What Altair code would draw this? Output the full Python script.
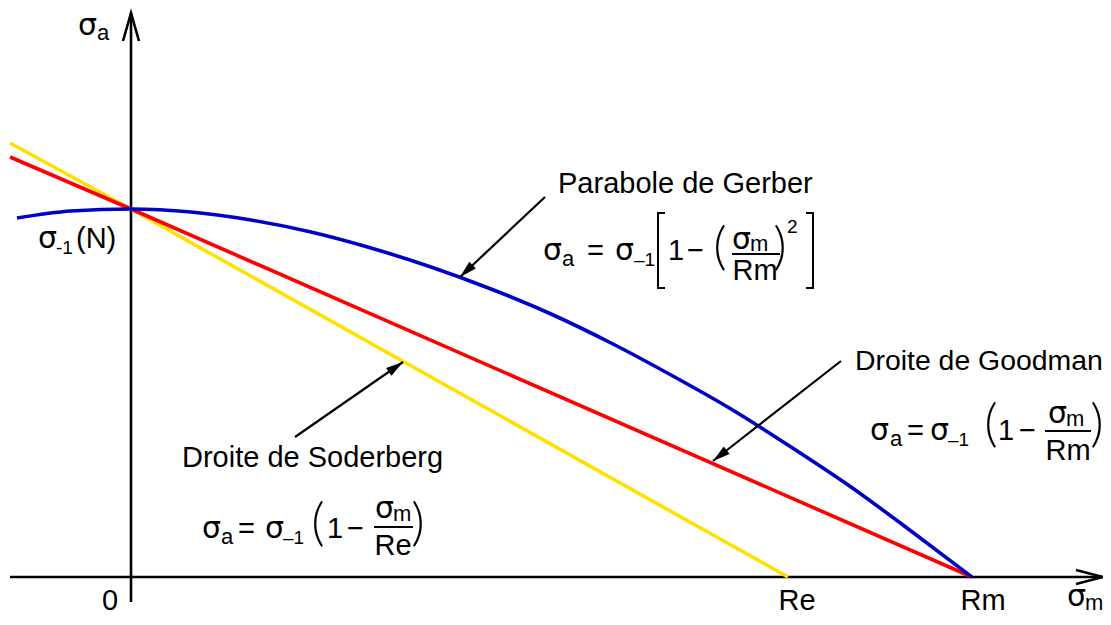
import math
import altair as alt
import pandas as pd

# ---------------- data (σm horizontally, σa vertically; origin = 0,0) ----------------
SIGMA_1 = 368          # σ-1(N)
RE = 657               # Re
RM = 841               # Rm

gerber_sm = [-114, -60, 0, 60, 120, 180, 240, 300, 360, 420, 480, 540, 600, 660, 720, 780, 841]
gerber_sa = [359, 366, 368, 365, 357, 345, 329, 310, 288, 263, 234, 202, 168, 130, 90, 46, 0]

goodman_sm = [-121, 0, 841]
goodman_sa = [420, 368, 0]

soderberg_sm = [-121, 0, 657]
soderberg_sa = [434, 368, 0]

# axes extents
x_axis_sm = [-121, 972]
y_axis_sa = [-25, 564]

# ---------------- layout / annotation positions (in the same units) ----------------
FONT = "Liberation Sans"
SFONT = "DejaVu Sans"   # font used for the σ glyphs
MAIN = 29      # ordinary text
SIG = 30       # σ glyphs
SUB = 22       # letter subscripts
NSUB = 19      # numeric sub/superscripts

left_texts = [
    ("a", -34, 537, SUB),
    ("-1", -75, 323, NSUB), ("(N)", -55, 329, MAIN),
    ("m", 954, -33, SUB),
    ("Parabole de Gerber", 427, 384, MAIN),
    ("a", 431, 311, SUB), ("=", 456, 317, MAIN),
    ("–1", 503, 311, NSUB),
    ("1", 537, 317, MAIN), ("−", 556, 317, MAIN),
    ("m", 619, 326, SUB), ("2", 656, 344, NSUB),
    ("Droite de Goodman", 724, 207, 28.4),
    ("a", 759, 131, SUB), ("=", 776, 137, MAIN),
    ("–1", 817, 131, NSUB),
    ("1", 867, 137, MAIN), ("−", 888, 137, MAIN),
    ("m", 935, 151, SUB),
    ("Droite de Soderberg", 51, 110, MAIN),
    ("a", 90, 33, SUB), ("=", 107, 39, MAIN),
    ("–1", 152, 33, NSUB),
    ("1", 196, 39, MAIN), ("−", 216, 39, MAIN),
    ("m", 262, 56, SUB),
]
sigma_texts = [
    ("σ", -53, 542, SIG),
    ("σ", -93, 329, SIG),
    ("σ", 936, -29, SIG),
    ("σ", 412, 317, SIG), ("σ", 484, 317, SIG), ("σ", 601, 328, SIG),
    ("σ", 739, 137, SIG), ("σ", 799, 137, SIG), ("σ", 917, 154, SIG),
    ("σ", 71, 39, SIG), ("σ", 134, 39, SIG), ("σ", 244, 59, SIG),
]
center_texts = [
    ("0", -21, -33, MAIN), ("Re", 666, -33, MAIN), ("Rm", 852, -33, MAIN),
    ("Rm", 624, 297, MAIN), ("Rm", 937, 117, MAIN), ("Re", 262, 22, MAIN),
]
PAREN = 52
big_glyphs = [
    ("(", 589, 329, PAREN), (")", 649, 329, PAREN),
    ("(", 860, 152, PAREN), (")", 966, 152, PAREN),
    ("(", 187, 53, PAREN), (")", 287, 53, PAREN),
]
# square brackets of the Gerber formula: (x_outer, x_inner, y_top, y_bottom)
brackets = [(527, 534, 364, 289), (682, 675, 364, 289)]
frac_bars = [(601, 649, 323), (914, 960, 146), (243, 282, 50)]

# annotation arrows: tail -> tip
arrows = [(414, 380, 329, 300), (710, 216, 582, 116), (164, 140, 272, 215)]

# ---------------- scales ----------------
W, H = 1095, 603
X = alt.Scale(domain=[-123, 972], nice=False, zero=False)
Y = alt.Scale(domain=[-34, 569], nice=False, zero=False)


def xe(f):
    return alt.X(f, type="quantitative", scale=X, axis=None)


def ye(f):
    return alt.Y(f, type="quantitative", scale=Y, axis=None)


# axes lines
axes_df = pd.DataFrame([
    {"x": x_axis_sm[0], "y": 0, "x2": x_axis_sm[1], "y2": 0},
    {"x": 0, "y": y_axis_sa[0], "x2": 0, "y2": y_axis_sa[1]},
])
axes = alt.Chart(axes_df).mark_rule(color="black", strokeWidth=2.6).encode(
    x=xe("x"), y=ye("y"), x2=alt.X2("x2"), y2=alt.Y2("y2"))

# open arrowheads of axes
heads_df = pd.DataFrame([
    {"g": "x", "o": 0, "x": x_axis_sm[1] - 27, "y": 7},
    {"g": "x", "o": 1, "x": x_axis_sm[1], "y": 0},
    {"g": "x", "o": 2, "x": x_axis_sm[1] - 27, "y": -7},
    {"g": "y", "o": 0, "x": -8, "y": y_axis_sa[1] - 28},
    {"g": "y", "o": 1, "x": 0, "y": y_axis_sa[1]},
    {"g": "y", "o": 2, "x": 8, "y": y_axis_sa[1] - 28},
])
axis_heads = alt.Chart(heads_df).mark_line(color="black", strokeWidth=2.6, strokeJoin="miter").encode(
    x=xe("x"), y=ye("y"), detail="g:N", order="o:Q")

# curves
sod_df = pd.DataFrame({"x": soderberg_sm, "y": soderberg_sa})
good_df = pd.DataFrame({"x": goodman_sm, "y": goodman_sa})
ger_df = pd.DataFrame({"x": gerber_sm, "y": gerber_sa})

sod = alt.Chart(sod_df).mark_line(color="#FFE000", strokeWidth=3.6, strokeCap="butt").encode(
    x=xe("x"), y=ye("y"))
good = alt.Chart(good_df).mark_line(color="#FF0000", strokeWidth=3.6, strokeCap="butt").encode(
    x=xe("x"), y=ye("y"))
ger = alt.Chart(ger_df).mark_line(color="#0000C8", strokeWidth=3.6, strokeCap="butt",
                                  interpolate="monotone").encode(x=xe("x"), y=ye("y"))

# annotation arrows
arr_df = pd.DataFrame([
    {"x": a[0], "y": a[1], "x2": a[2], "y2": a[3],
     "angle": (math.degrees(math.atan2(a[2] - a[0], a[3] - a[1])) + 360) % 360}
    for a in arrows
])
arr_lines = alt.Chart(arr_df).mark_rule(color="black", strokeWidth=2.2).encode(
    x=xe("x"), y=ye("y"), x2=alt.X2("x2"), y2=alt.Y2("y2"))
arr_heads = alt.Chart(arr_df).mark_point(
    shape="M0,0L-0.55,2L0.55,2Z", filled=True, color="black", opacity=1, size=300, strokeWidth=0
).encode(x=xe("x2"), y=ye("y2"), angle=alt.Angle("angle:Q", scale=None))

# fraction bars
fb_df = pd.DataFrame([{"x": b[0], "x2": b[1], "y": b[2]} for b in frac_bars])
fbars = alt.Chart(fb_df).mark_rule(color="black", strokeWidth=1.8).encode(
    x=xe("x"), x2=alt.X2("x2"), y=ye("y"))

# square brackets
br_rows = []
for i, (xo, xi, yt, yb) in enumerate(brackets):
    for o, (px, py) in enumerate([(xi, yt), (xo, yt), (xo, yb), (xi, yb)]):
        br_rows.append({"g": i, "o": o, "x": px, "y": py})
br = alt.Chart(pd.DataFrame(br_rows)).mark_line(color="black", strokeWidth=2.0, strokeJoin="miter").encode(
    x=xe("x"), y=ye("y"), detail="g:N", order="o:Q")

# texts
cols = ["t", "x", "y", "s"]
lt = alt.Chart(pd.DataFrame(left_texts, columns=cols)).mark_text(
    align="left", baseline="alphabetic", font=FONT, color="black").encode(
    x=xe("x"), y=ye("y"), text="t:N", size=alt.Size("s:Q", scale=None))
sg = alt.Chart(pd.DataFrame(sigma_texts, columns=cols)).mark_text(
    align="left", baseline="alphabetic", font=SFONT, color="black").encode(
    x=xe("x"), y=ye("y"), text="t:N", size=alt.Size("s:Q", scale=None))
ct = alt.Chart(pd.DataFrame(center_texts, columns=cols)).mark_text(
    align="center", baseline="alphabetic", font=FONT, color="black").encode(
    x=xe("x"), y=ye("y"), text="t:N", size=alt.Size("s:Q", scale=None))
bg = alt.Chart(pd.DataFrame(big_glyphs, columns=cols)).mark_text(
    align="center", baseline="middle", font="Lato", fontWeight=300, color="black").encode(
    x=xe("x"), y=ye("y"), text="t:N", size=alt.Size("s:Q", scale=None))

chart = alt.layer(
    axes, axis_heads, sod, good, ger, arr_lines, arr_heads, fbars, br, lt, sg, ct, bg
).properties(
    width=W, height=H, padding=0, autosize=alt.AutoSizeParams(type="none"),
    background="white"
).configure_view(stroke=None)

chart.save("out.html", embed_options={"renderer": "svg", "actions": False})
